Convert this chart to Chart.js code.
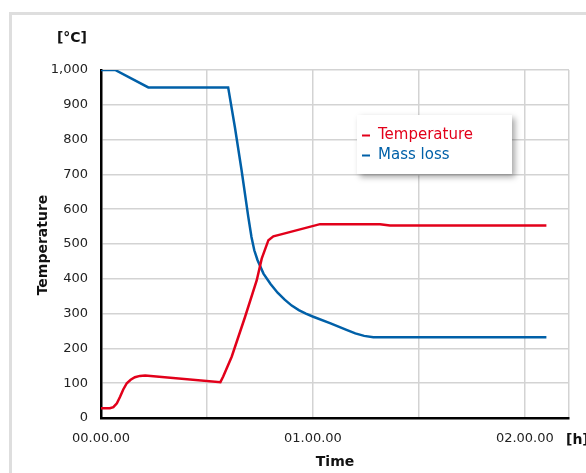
<!DOCTYPE html>
<html>
<head>
<meta charset="utf-8">
<script src="https://cdn.jsdelivr.net/npm/chart.js@4/dist/chart.umd.min.js"></script>
<style>
  html, body { margin: 0; padding: 0; background: #fff; }
  #wrap { position: relative; width: 586px; height: 473px; }
</style>
</head>
<body>
<div id="wrap"><canvas id="chart" width="586" height="473"></canvas></div>
<script>
// time in minutes from start
const tempTime = [0, 2.5, 3.5, 4.5, 5.4, 6.3, 7.3, 8.4, 9.6, 11, 12.5, 33.8, 34.6, 37, 40.8, 44.1, 45.5, 47.4, 48.8, 50.7, 62, 79, 81.8, 126.1];
const tempValues = [28, 28, 31, 42, 61, 82, 100, 110, 117, 121, 122, 103, 119, 176, 291, 396, 458, 511, 522, 527, 557, 557, 553, 553];

const massTime = [0, 4, 13.4, 36, 37.9, 39.8, 41.7, 42.6, 43.4, 44.3, 46, 48, 50, 52, 54, 56, 58, 60.1, 65, 69.5, 72, 74.5, 77.1, 126.1];
const massValues = [1000, 1000, 950, 950, 836, 712, 578, 520, 482, 454, 415, 385, 360, 340, 323, 310, 300, 291, 272, 253, 243, 236, 232, 232];

const xTicks = [0, 30, 60, 90, 120, 132.5];
const xLabels = { 0: '00.00.00', 60: '01.00.00', 120: '02.00.00' };
const seriesNames = ['Temperature', 'Mass loss'];

const RED = '#e2001a';
const BLUE = '#0060a8';
const FONT = '"DejaVu Sans", Verdana, sans-serif';

function points(xs, ys) {
  return xs.map((x, i) => ({ x: x, y: ys[i] }));
}

const decor = {
  id: 'decor',
  beforeDraw(chart) {
    const ctx = chart.ctx;
    ctx.save();
    ctx.strokeStyle = '#dedede';
    ctx.lineWidth = 3;
    ctx.strokeRect(10.5, 13.5, 700, 600);
    ctx.restore();
  },
  afterDraw(chart) {
    const ctx = chart.ctx;
    const area = chart.chartArea;
    ctx.save();
    ctx.fillStyle = '#111';
    ctx.font = 'bold 14px ' + FONT;
    ctx.textBaseline = 'middle';
    ctx.textAlign = 'right';
    ctx.fillText('[°C]', 87, 38);
    ctx.textAlign = 'left';
    ctx.fillText('[h]', 566, 440);
    ctx.textAlign = 'center';
    ctx.fillText('Time', (area.left + area.right) / 2, 462);
    ctx.translate(43, 245);
    ctx.rotate(-Math.PI / 2);
    ctx.fillText('Temperature', 0, 0);
    ctx.restore();

    // legend box
    ctx.save();
    ctx.shadowColor = 'rgba(0,0,0,0.35)';
    ctx.shadowBlur = 6;
    ctx.shadowOffsetX = 3;
    ctx.shadowOffsetY = 3;
    ctx.fillStyle = '#fff';
    ctx.fillRect(357, 115, 155, 59);
    ctx.restore();
    ctx.save();
    ctx.font = '15px ' + FONT;
    ctx.textBaseline = 'middle';
    ctx.textAlign = 'left';
    const colors = [RED, BLUE];
    seriesNames.forEach((name, i) => {
      const y = 135 + i * 20;
      ctx.strokeStyle = colors[i];
      ctx.lineWidth = 2;
      ctx.beginPath();
      ctx.moveTo(362, y + 0.5);
      ctx.lineTo(370, y + 0.5);
      ctx.stroke();
      ctx.fillStyle = colors[i];
      ctx.fillText(name, 378, y);
    });
    ctx.restore();
  }
};

new Chart(document.getElementById('chart'), {
  type: 'line',
  data: {
    datasets: [
      {
        label: seriesNames[0],
        data: points(tempTime, tempValues),
        borderColor: RED,
        borderWidth: 2.5,
        pointRadius: 0,
        tension: 0,
        fill: false,
      },
      {
        label: seriesNames[1],
        data: points(massTime, massValues),
        borderColor: BLUE,
        borderWidth: 2.5,
        pointRadius: 0,
        tension: 0,
        fill: false,
      },
    ],
  },
  options: {
    responsive: false,
    animation: false,
    layout: { padding: { left: 0, top: 70, right: 17, bottom: 0 } },
    plugins: {
      legend: { display: false },
      tooltip: { enabled: false },
    },
    scales: {
      x: {
        type: 'linear',
        min: 0,
        max: 132.5,
        afterBuildTicks: (axis) => { axis.ticks = xTicks.map(v => ({ value: v })); },
        afterFit: (axis) => { axis.height = 55; },
        grid: { color: '#d3d3d3', lineWidth: 1.5, drawTicks: false },
        border: { color: '#000', width: 2.5 },
        ticks: {
          autoSkip: false,
          maxRotation: 0,
          padding: 13,
          color: '#222',
          font: { family: FONT, size: 13 },
          callback: (v) => xLabels[v] || '',
        },
      },
      y: {
        min: 0,
        max: 1000,
        afterFit: (axis) => { axis.width = 101; },
        grid: { color: '#d3d3d3', lineWidth: 1.5, drawTicks: false },
        border: { color: '#000', width: 2.5 },
        ticks: {
          stepSize: 100,
          padding: 13,
          color: '#222',
          font: { family: FONT, size: 13 },
          callback: (v) => v.toLocaleString('en-US'),
        },
      },
    },
  },
  plugins: [decor],
});
</script>
</body>
</html>
